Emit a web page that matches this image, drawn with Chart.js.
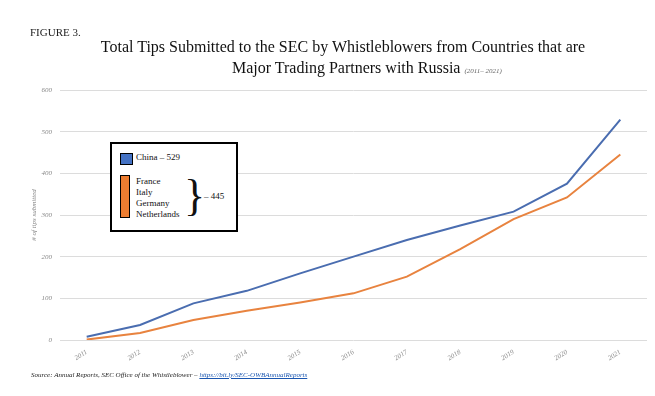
<!DOCTYPE html>
<html><head><meta charset="utf-8">
<script src="https://cdn.jsdelivr.net/npm/chart.js@4"></script>
<style>
html,body{margin:0;padding:0;background:#fff;}
body{width:655px;height:396px;position:relative;overflow:hidden;font-family:"Liberation Serif","DejaVu Serif",serif;}
#wrap{position:absolute;left:0;top:0;width:655px;height:396px;}
.fig{position:absolute;left:30px;top:26px;font-size:11px;color:#222;}
.t1{position:absolute;left:0;width:686px;top:38px;text-align:center;font-size:16px;color:#111;}
.t2{position:absolute;left:232px;top:59px;font-size:16px;color:#111;}
.t2 small{font-size:7px;font-style:italic;color:#666;}
.legend{position:absolute;left:110px;top:142px;width:124px;height:86px;border:2px solid #000;background:#fff;font-size:9px;color:#111;}
.src{position:absolute;left:31px;top:371px;font-size:7px;font-style:italic;color:#222;}
.src a{color:#1a56b0;text-decoration:underline;}
</style></head>
<body>
<div id="wrap"><canvas id="c" width="655" height="396"></canvas></div>
<div class="fig">FIGURE 3.</div>
<div class="t1">Total Tips Submitted to the SEC by Whistleblowers from Countries that are</div>
<div class="t2">Major Trading Partners with Russia <small>(2011– 2021)</small></div>
<div class="legend">
  <div style="position:absolute;left:8px;top:9px;width:11px;height:10px;background:#4472C4;border:1px solid #000;"></div>
  <div style="position:absolute;left:24px;top:8px;">China – 529</div>
  <div style="position:absolute;left:8px;top:31px;width:8px;height:41px;background:#ED7D31;border:1px solid #000;"></div>
  <div style="position:absolute;left:24px;top:32px;line-height:11px;">France<br>Italy<br>Germany<br>Netherlands</div>
  <div style="position:absolute;left:72px;top:28px;font-size:44px;line-height:48px;">}</div>
  <div style="position:absolute;left:92px;top:47px;">– 445</div>
</div>
<div class="src">Source: Annual Reports, SEC Office of the Whistleblower – <a>https://bit.ly/SEC-OWBAnnualReports</a></div>
<script>
const years = ["2011","2012","2013","2014","2015","2016","2017","2018","2019","2020","2021"];
const china = [8, 36, 88, 118, 160, 200, 240, 275, 308, 375, 529];
const europe = [1, 17, 48, 70, 90, 112, 152, 218, 290, 342, 445];
const yTicks = [0, 100, 200, 300, 400, 500, 600];

const tickFont = {family:"Liberation Serif", size:7, style:"italic"};
new Chart(document.getElementById('c'), {
  type:'line',
  data:{labels:years, datasets:[
    {label:'China', data:china, borderColor:'#4A6DB0', borderWidth:2, pointRadius:0, tension:0, fill:false},
    {label:'France, Italy, Germany, Netherlands', data:europe, borderColor:'#E8833F', borderWidth:2, pointRadius:0, tension:0, fill:false}
  ]},
  options:{
    responsive:false, animation:false,
    layout:{padding:{top:90, right:8, bottom:26, left:30}},
    plugins:{legend:{display:false}, tooltip:{enabled:false}},
    scales:{
      x:{offset:true, grid:{display:false}, border:{display:false},
        ticks:{font:tickFont, color:'#888', minRotation:32, maxRotation:32, padding:0},
        afterFit(s){s.height=30;}},
      y:{min:0, max:600, grid:{color:'#dcdcdc', lineWidth:1, drawTicks:false}, border:{display:false},
        afterBuildTicks(s){s.ticks = yTicks.map(v=>({value:v}));},
        ticks:{font:tickFont, color:'#888', padding:8},
        title:{display:true, text:'# of tips submitted', font:{family:"Liberation Serif", size:7, style:'italic'}, color:'#888', padding:0},
        afterFit(s){s.width=30;}}
    }
  }
});
</script>
</body></html>
